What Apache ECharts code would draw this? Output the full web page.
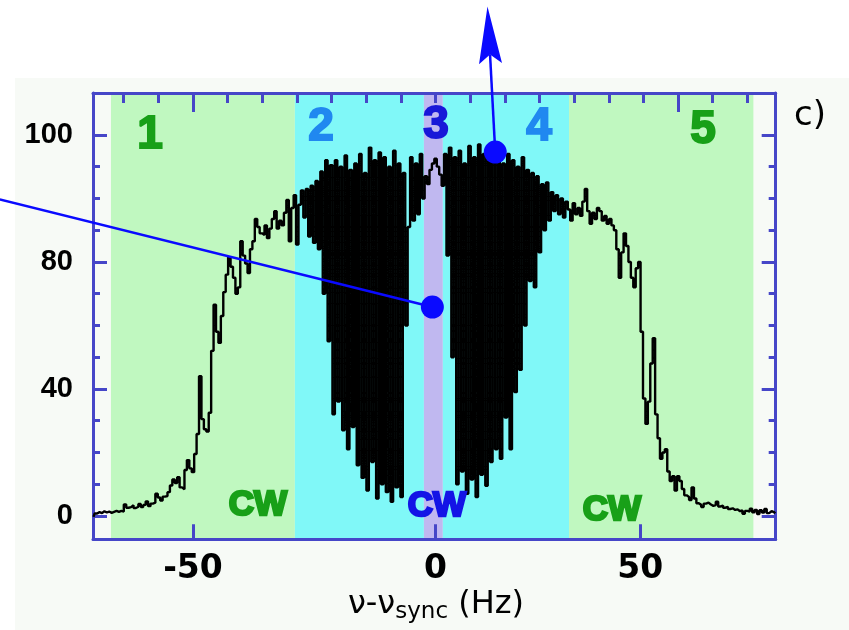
<!DOCTYPE html>
<html>
<head>
<meta charset="utf-8">
<title>c)</title>
<script src="https://cdn.jsdelivr.net/npm/echarts@6.0.0/dist/echarts.min.js"></script>
<style>
html, body { margin: 0; padding: 0; background: #ffffff; }
#chart { width: 849px; height: 630px; }
</style>
</head>
<body>
<div id="chart"></div>
<script>
// spectrum, one sample every 0.5 Hz starting at -70.5 Hz
const freqStart = -70.5
const freqStep = 0.5
const power = [
    -0.3, 0.8, 1.2, 0.9, 1.5, 1.1, 1.4, 1.0, 1.3, 1.6,
    1.3, 1.6, 1.4, 3.6, 2.6, 2.8, 3.4, 2.5, 2.9, 3.8,
    2.8, 3.5, 4.6, 3.1, 3.9, 4.2, 7.0, 5.8, 4.9, 6.1,
    6.3, 7.5, 9.6, 11.5, 10.4, 12.2, 9.0, 8.4, 14.5, 17.6,
    15.0, 13.8, 19.5, 25.8, 44.0, 30.5, 27.3, 26.6, 32.5, 52.0,
    66.5, 58, 54.5, 63, 70.5, 76, 81.5, 78.5, 75, 70,
    72, 86.5, 82, 79.5, 76.5, 84, 86.5, 93.5, 91, 89,
    88.5, 91.5, 87.5, 90.5, 93.5, 96, 90.5, 93, 91.5, 95.5,
    99.5, 86.5, 97, 101, 85.5, 98, 102.5, 94, 103, 88,
    104, 86, 105.5, 84, 108.5, 70, 112, 55, 110.5, 32,
    112, 36, 110, 27, 113.5, 21, 109, 28, 111, 16,
    114, 12, 108, 8, 116, 17, 112, 5.5, 114.5, 10,
    113, 7.5, 110, 4.5, 115, 9, 111, 6, 108, 60,
    91, 113, 93, 111, 95, 114, 100, 107, 104.5, 109,
    111, 112.5, 110, 107.5, 104, 114, 82, 116, 50, 113,
    10, 115, 14, 111, 7, 116.5, 11.5, 113, 6, 117,
    13, 114, 9.5, 116, 17, 112, 21, 115, 18, 111,
    31, 114, 21, 112, 39, 110, 46, 113, 60, 109,
    74, 108, 72, 107, 83, 104.5, 90, 105, 93, 102,
    96, 101, 95, 100, 94, 99, 96.5, 93, 98.5, 95,
    97, 94.5, 99, 103, 96, 92, 95.5, 93.5, 97, 96,
    93, 94.5, 92, 93.5, 91.5, 90, 84, 75, 83, 89,
    85, 80, 75, 72, 78, 80, 58, 37, 29, 36,
    48, 56, 32, 24.5, 18, 20, 21, 14, 11, 12.5,
    8, 12.5, 11, 8.5, 6.5, 6, 5, 9, 5.5, 4,
    3.5, 2.8, 3.9, 4.2, 3.6, 3.2, 3.4, 4.5, 3.0, 3.3,
    2.6, 2.9, 2.2, 2.4, 1.9, 2.1, 1.5, 1.8, 0.7, 1.6,
    1.4, 2.3, 1.2, 1.9, 0.6, 1.8, 1.1, 2.2, 0.9, 1.5, 1.2, 0.8
]

// shaded regions 1..5 (Hz)
const bandEdges = [-66.9, -29.0, -2.4, 1.5, 27.5, 65.5]

// ticks
const xTickValues = [-50, 0, 42.2]
const xTickLabels = ['-50', '0', '50']
const xTopTicks = [-64.3, -57.1, -50, -42.9, -35.7, -28.6, -21.4, -14.3, -7.1, 0,
    7.1, 14.3, 21.4, 28.6, 35.7, 42.9, 50, 57.1, 64.3]
const xTopMajor = [-50, 50]
const yTickValues = [0, 40, 80, 120]
const yTickLabels = ['0', '40', '80', '100']
const yMinorTicks = [10, 20, 30, 50, 60, 70, 90, 100, 110]

// blue pointers: [start, end] in data units
const pointerA = [[-89.8, 99.7], [-0.66, 65.8]]
const pointerB = [[12.3, 114.6], [10.7, 160.4]]

const xMin = -70.6, xMax = 70.1
const yMin = -7.34, yMax = 133.2
const frameColor = '#4646c8'
const bandColors = ['#c0f8c0', '#80f8f8', '#c0b8f0', '#80f8f8', '#c0f8c0']

const freqData = power.map((p, i) => [freqStart + i * freqStep, p])
const bandAreas = bandColors.map((c, i) => [
    { xAxis: bandEdges[i], itemStyle: { color: c, opacity: 1 } },
    { xAxis: bandEdges[i + 1] }
])

const chart = echarts.init(document.getElementById('chart'))

function tickAxis(gridIndex, position, values, length, lineShow) {
    return {
        gridIndex: gridIndex,
        type: 'value',
        position: position,
        z: 3,
        axisLine: { show: lineShow, onZero: false, lineStyle: { color: frameColor, width: 3 } },
        axisTick: { show: true, inside: true, length: length, customValues: values, lineStyle: { color: frameColor, width: 3 } },
        axisLabel: { show: false },
        splitLine: { show: false }
    }
}

const xBottom = tickAxis(0, 'bottom', xTickValues, 15, true)
xBottom.axisLabel = {
    show: true,
    customValues: xTickValues,
    formatter: v => xTickLabels[xTickValues.indexOf(v)],
    fontFamily: 'DejaVu Sans',
    fontWeight: 'bold',
    fontSize: 33,
    color: '#000',
    margin: 14
}
const yLeft = tickAxis(0, 'left', yTickValues, 14, true)
yLeft.axisLabel = {
    show: true,
    customValues: yTickValues,
    formatter: v => yTickLabels[yTickValues.indexOf(v)],
    fontFamily: 'Liberation Sans',
    fontWeight: 'bold',
    fontSize: 29,
    color: '#000',
    margin: 20
}

const xAxes = [xBottom, tickAxis(0, 'top', xTopTicks, 10, true), tickAxis(1, 'top', xTopMajor, 19, false)]
const yAxes = [yLeft, tickAxis(0, 'right', yTickValues, 14, true),
    tickAxis(1, 'left', yMinorTicks, 7, false), tickAxis(1, 'right', yMinorTicks, 7, false)]
xAxes.forEach(a => { a.min = xMin; a.max = xMax })
yAxes.forEach(a => { a.min = yMin; a.max = yMax })

const gridBox = { left: 93, right: 73.3, top: 93, bottom: 90.7, containLabel: false, outerBoundsMode: 'none' }

chart.setOption({
    backgroundColor: '#ffffff',
    animation: false,
    grid: [Object.assign({}, gridBox), Object.assign({}, gridBox)],
    xAxis: xAxes,
    yAxis: yAxes,
    series: [{
        type: 'line',
        xAxisIndex: 0,
        yAxisIndex: 0,
        data: freqData,
        step: 'middle',
        symbol: 'none',
        clip: true,
        lineStyle: { color: '#000', width: 2.4 },
        markArea: { silent: true, data: bandAreas }
    }]
})

// pointers and labels
const toPx = p => chart.convertToPixel({ xAxisIndex: 0, yAxisIndex: 0 }, p)
const blue = '#0a0aff'
const a0 = toPx(pointerA[0]), a1 = toPx(pointerA[1])
const b0 = toPx(pointerB[0]), tip = toPx(pointerB[1])
const len = Math.hypot(tip[0] - b0[0], tip[1] - b0[1])
const ux = (tip[0] - b0[0]) / len, uy = (tip[1] - b0[1]) / len
const nx = -uy, ny = ux
const headLen = 57, halfW = 11.5, notch = 9
const base = [tip[0] - ux * headLen, tip[1] - uy * headLen]
const neck = [tip[0] - ux * (headLen - notch), tip[1] - uy * (headLen - notch)]

function label(text, x, y, color, size, heavy) {
    return {
        type: 'text', x: x, y: y, z: 20, silent: true,
        style: {
            text: text, fill: color, align: 'center', verticalAlign: 'middle',
            font: 'bold ' + size + 'px "Liberation Sans"',
            stroke: color, lineWidth: heavy
        }
    }
}

chart.setOption({
    graphic: [
        { type: 'rect', z: -10, silent: true, shape: { x: 15, y: 78, width: 834, height: 552 }, style: { fill: '#f7faf6' } },
        label('1', 150, 135, '#18a018', 46, 2),
        label('2', 321, 127, '#2088f0', 46, 2),
        label('3', 436, 125, '#1818d8', 46, 2),
        label('4', 539, 127, '#2088f0', 46, 2),
        label('5', 703, 130, '#18a018', 46, 2),
        label('CW', 258, 505, '#18a018', 35, 2.5),
        label('CW', 437, 506, '#1414e6', 35, 2.5),
        label('CW', 612, 510, '#18a018', 35, 2.5),
        {
            type: 'text', x: 810, y: 116, z: 20, silent: true,
            style: { text: 'c)', fill: '#000', align: 'center', verticalAlign: 'middle', font: '34px "DejaVu Sans"' }
        },
        {
            type: 'text', x: 436, y: 606, z: 20, silent: true,
            style: {
                text: '{a|ν-ν}{b|sync}{a| (Hz)}',
                align: 'center', verticalAlign: 'middle', fill: '#000',
                rich: {
                    a: { fontFamily: 'DejaVu Sans', fontSize: 32, verticalAlign: 'bottom', padding: [0, 0, 3, 0] },
                    b: { fontFamily: 'DejaVu Sans', fontSize: 23, verticalAlign: 'bottom' }
                }
            }
        },
        { type: 'line', z: 20, silent: true, shape: { x1: a0[0], y1: a0[1], x2: a1[0], y2: a1[1] }, style: { stroke: blue, lineWidth: 2.5 } },
        { type: 'circle', z: 21, silent: true, shape: { cx: a1[0], cy: a1[1], r: 11.5 }, style: { fill: blue } },
        { type: 'line', z: 20, silent: true, shape: { x1: b0[0], y1: b0[1], x2: neck[0], y2: neck[1] }, style: { stroke: blue, lineWidth: 2.5 } },
        { type: 'circle', z: 21, silent: true, shape: { cx: b0[0], cy: b0[1], r: 11.5 }, style: { fill: blue } },
        {
            type: 'polygon', z: 21, silent: true,
            shape: { points: [tip, [base[0] + nx * halfW, base[1] + ny * halfW], neck, [base[0] - nx * halfW, base[1] - ny * halfW]] },
            style: { fill: blue }
        }
    ]
})
</script>
</body>
</html>
